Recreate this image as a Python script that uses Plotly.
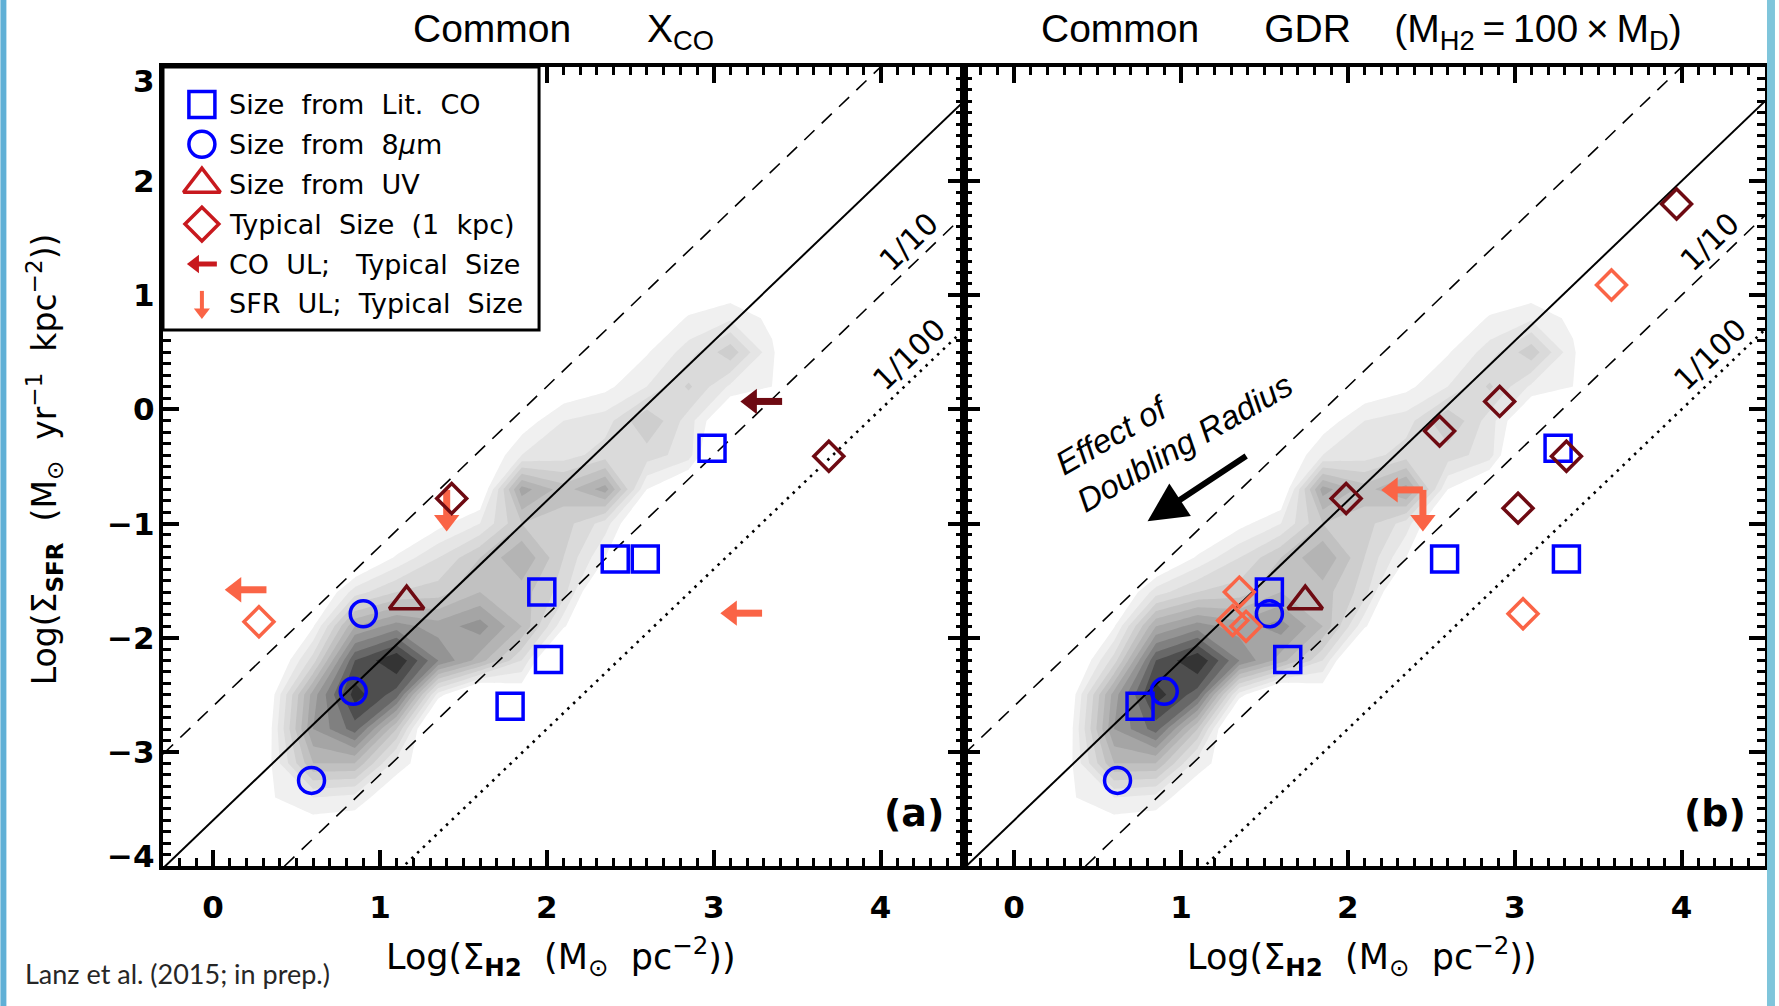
import plotly.graph_objects as go

# ---------------- canvas / axes geometry ----------------
W, H = 1779, 1006
M_L, M_R, M_T, M_B = 163, 10, 67, 140
PLOT_W = W - M_L - M_R
PLOT_H = H - M_T - M_B
X_RANGE = [-0.3, 4.5]
Y_RANGE = [-4.0, 3.0]
PX_PER_X = (PLOT_W / 2) / (X_RANGE[1] - X_RANGE[0])
PX_PER_Y = PLOT_H / (Y_RANGE[1] - Y_RANGE[0])


def px_x(p):
    return (p - M_L) / PLOT_W


def px_y(p):
    return (H - M_B - p) / PLOT_H


# ---------------- Kennicutt-Schmidt relation ----------------
KS_SLOPE = 1.4
KS_ZERO = -3.6
ks_offsets = [1.0, 0.0, -1.0, -2.0]
ks_dash = ["14px,10px", "solid", "14px,10px", "2.5px,5.5px"]
ks_width = [1.6, 2.0, 1.6, 2.6]

# ---------------- comparison-sample density (grey contours) ----------------
grid_x = [0.10, 0.35, 0.60, 0.85, 1.10, 1.35, 1.60, 1.85, 2.10, 2.35, 2.60, 2.85, 3.10, 3.35, 3.60]
grid_y = [-3.7, -3.4, -3.1, -2.8, -2.5, -2.2, -1.9, -1.6, -1.3, -1.0, -0.7, -0.4, -0.1, 0.2, 0.5, 0.8, 1.1]
density = [
    [0, 0,    0,   0,    0,    0,   0,    0,   0,   0,   0,    0,   0,   0,   0],
    [0, 0.9,  2.0, 1.6,  0,    0,   0,    0,   0,   0,   0,    0,   0,   0,   0],
    [0, 1.0,  6.0, 6.0,  1.5,  0,   0,    0,   0,   0,   0,    0,   0,   0,   0],
    [0, 0.95, 8.0, 10.5, 5.0, -3,   0,    0,   0,   0,   0,    0,   0,   0,   0],
    [0, 0.5,  7.5, 12.5, 10.5, 1.5, -2,   0,   0,   0,   0,    0,   0,   0,   0],
    [0, -1,   3.5, 11,   13,   9,   6.5,  3,  -3,   0,   0,    0,   0,   0,   0],
    [0, 0,    0.9, 7,    8.5,  7.5, 8.5,  6,   1.2, -2,  0,    0,   0,   0,   0],
    [0, 0,   -1,   2.5,  4,    4.5, 6,    5.5, 3.5, -2,  0,    0,   0,   0,   0],
    [0, 0,    0,  -1,    1.2,  3,   5,    7,   4,   1.0, -2,   0,   0,   0,   0],
    [0, 0,    0,   0,   -1,    0.6, 2,    5,   4.5, 2.5, -1.5, 0,   0,   0,   0],
    [0, 0,    0,   0,    0,   -1,  -0.5,  7.5, 5.5, 7.5, 1.0, -1,   0,   0,   0],
    [0, 0,    0,   0,    0,    0,  -0.5,  2,   2.5, 3.5, 3.5,  2.5, -3,  0,   0],
    [0, 0,    0,   0,    0,    0,   0,    0.3, 2,   2.5, 5,    2.5, -1, -1,   0],
    [0, 0,    0,   0,    0,    0,   0,    0,   0,   0.7, 2,    4.2, 1.8, 1.0, 0],
    [0, 0,    0,   0,    0,    0,   0,    0,   0,   0,   0.9,  2.5, 4.7, 1.2, -2],
    [0, 0,    0,   0,    0,    0,   0,    0,   0,   0,   0,    1.1, 1.8, 0.7, 0],
    [0, 0,    0,   0,    0,    0,   0,    0,   0,   0,   0,    0,   0,   0,   0],
]
grey_levels = [255, 240, 229, 218, 206, 193, 180, 165, 148, 128, 104, 78, 52]

# ---------------- panel (a): common X_CO ----------------
a_litco_x = [2.99, 2.41, 2.59, 1.97, 2.01, 1.78]
a_litco_y = [-0.34, -1.31, -1.31, -1.60, -2.19, -2.60]
a_8um_x = [0.90, 0.84, 0.59]
a_8um_y = [-1.79, -2.47, -3.25]
a_uv_x = [1.16]
a_uv_y = [-1.68]
a_typ_dark_x = [1.43, 3.69]
a_typ_dark_y = [-0.78, -0.41]
a_typ_light_x = [0.275]
a_typ_light_y = [-1.86]
a_coul_light_x = [0.32, 3.29]
a_coul_light_y = [-1.58, -1.785]
a_coul_dark_x = [3.41]
a_coul_dark_y = [0.07]
a_sfrul_x = [1.40]
a_sfrul_y = [-0.705]

# ---------------- panel (b): common gas-to-dust ratio ----------------
b_litco_x = [3.26, 2.58, 3.31, 1.53, 1.64, 0.755]
b_litco_y = [-0.34, -1.31, -1.31, -1.60, -2.19, -2.60]
b_8um_x = [1.53, 0.90, 0.62]
b_8um_y = [-1.79, -2.47, -3.25]
b_uv_x = [1.745]
b_uv_y = [-1.68]
b_typ_dark_x = [3.97, 2.91, 2.55, 1.99, 3.02, 3.31]
b_typ_dark_y = [1.80, 0.07, -0.19, -0.78, -0.865, -0.41]
b_typ_light_x = [3.58, 1.35, 1.31, 1.39, 3.05]
b_typ_light_y = [1.09, -1.60, -1.85, -1.90, -1.79]
b_coul_light_x = [2.45]
b_coul_light_y = [-0.705]
b_coul_dark_x = []
b_coul_dark_y = []
b_sfrul_x = [2.45]
b_sfrul_y = [-0.705]

# ---------------- tick labels ----------------
x_ticks = [0, 1, 2, 3, 4]
y_ticks = [3, 2, 1, 0, -1, -2, -3, -4]
y_tick_text = ["3", "2", "1", "0", "\u22121", "\u22122", "\u22123", "\u22124"]
y_tick_shift = [-14, 0, 0, 0, 0, 0, 0, 10]   # end labels tucked inside the frame

# legend rows
NB = "\u00a0"
TH = "\u2009"
legend_labels = [
    f"Size{NB} from{NB} Lit.{NB} CO",
    f"Size{NB} from{NB} 8<i>\u03bc</i>m",
    f"Size{NB} from{NB} UV",
    f"Typical{NB} Size{NB} (1{NB} kpc)",
    f"CO{NB} UL;{NB}{NB} Typical{NB} Size",
    f"SFR{NB} UL;{NB} Typical{NB} Size",
]

# ---------------- styles ----------------
BLUE = "#0000FF"
DARK = "#6E0A12"
CORAL = "#FA6446"
LEG_RED = "#C8191E"
ARROW_DX = 0.25      # length of a CO upper-limit arrow (x units)
ARROW_DY = 0.365     # length of an SFR upper-limit arrow (y units)
HEAD_SIZE = 22
SHAFT_W = 7

fig = go.Figure()
cscale = [[k / (len(grey_levels) - 1), f"rgb({g},{g},{g})"] for k, g in enumerate(grey_levels)]


def add_arrows(xs, ys, direction, color, xa, ya, dx, dy, head, shaft, ppx, ppy):
    sx, sy, hx, hy = [], [], [], []
    r = head / 2.0
    for x, y in zip(xs, ys):
        if direction == "left":
            tip = x - dx
            anchor = tip + r / ppx
            sx += [x, anchor, None]
            sy += [y, y, None]
            hx.append(anchor)
            hy.append(y)
        else:
            tip = y - dy
            anchor = tip + r / ppy
            sx += [x, x, None]
            sy += [y, anchor, None]
            hx.append(x)
            hy.append(anchor)
    sym = "triangle-left" if direction == "left" else "triangle-down"
    fig.add_trace(go.Scatter(x=sx, y=sy, mode="lines", line=dict(color=color, width=shaft),
                             xaxis=xa, yaxis=ya, hoverinfo="skip"))
    fig.add_trace(go.Scatter(x=hx, y=hy, mode="markers",
                             marker=dict(symbol=sym, size=head, color=color, line=dict(width=0)),
                             xaxis=xa, yaxis=ya, hoverinfo="skip"))


def add_points(xs, ys, symbol, color, size, xa, ya, lw=3.5):
    fig.add_trace(go.Scatter(x=xs, y=ys, mode="markers",
                             marker=dict(symbol=symbol, size=size, color=color, line=dict(width=lw, color=color)),
                             xaxis=xa, yaxis=ya, hoverinfo="skip"))


panels = [
    dict(xa="x", ya="y", litco=(a_litco_x, a_litco_y), um8=(a_8um_x, a_8um_y), uv=(a_uv_x, a_uv_y),
         dark=(a_typ_dark_x, a_typ_dark_y), light=(a_typ_light_x, a_typ_light_y),
         coul_light=(a_coul_light_x, a_coul_light_y), coul_dark=(a_coul_dark_x, a_coul_dark_y),
         sfrul=(a_sfrul_x, a_sfrul_y)),
    dict(xa="x2", ya="y2", litco=(b_litco_x, b_litco_y), um8=(b_8um_x, b_8um_y), uv=(b_uv_x, b_uv_y),
         dark=(b_typ_dark_x, b_typ_dark_y), light=(b_typ_light_x, b_typ_light_y),
         coul_light=(b_coul_light_x, b_coul_light_y), coul_dark=(b_coul_dark_x, b_coul_dark_y),
         sfrul=(b_sfrul_x, b_sfrul_y)),
]

for p in panels:
    xa, ya = p["xa"], p["ya"]
    fig.add_trace(go.Contour(x=grid_x, y=grid_y, z=density, colorscale=cscale, showscale=False,
                             autocontour=False,
                             contours=dict(start=1, end=12, size=1, coloring="fill", showlines=False),
                             line=dict(width=0, smoothing=0), hoverinfo="skip", xaxis=xa, yaxis=ya))
    for off, dash, lw in zip(ks_offsets, ks_dash, ks_width):
        lx = list(X_RANGE)
        ly = [KS_SLOPE * v + KS_ZERO + off for v in lx]
        fig.add_trace(go.Scatter(x=lx, y=ly, mode="lines", line=dict(color="black", width=lw, dash=dash),
                                 xaxis=xa, yaxis=ya, hoverinfo="skip"))
    add_arrows(*p["sfrul"], "down", CORAL, xa, ya, ARROW_DX, ARROW_DY, HEAD_SIZE, SHAFT_W, PX_PER_X, PX_PER_Y)
    add_arrows(*p["coul_light"], "left", CORAL, xa, ya, ARROW_DX, ARROW_DY, HEAD_SIZE, SHAFT_W, PX_PER_X, PX_PER_Y)
    if p["coul_dark"][0]:
        add_arrows(*p["coul_dark"], "left", DARK, xa, ya, ARROW_DX, ARROW_DY, HEAD_SIZE, SHAFT_W, PX_PER_X, PX_PER_Y)
    add_points(*p["litco"], "square-open", BLUE, 26, xa, ya)
    add_points(*p["um8"], "circle-open", BLUE, 26, xa, ya)
    add_points(*p["uv"], "triangle-up-open", DARK, 30, xa, ya)
    add_points(*p["light"], "diamond-open", CORAL, 23, xa, ya)
    add_points(*p["dark"], "diamond-open", DARK, 23, xa, ya)

# ---------------- legend (drawn on its own pixel-scaled axes; row k sits at y = -k) ----------------
LEG_X0, LEG_X1, LEG_Y0, LEG_Y1 = 163, 540, 67, 330
ROW_PX = 39.9
ROW0_PX = 104.4
leg_rows = [-k for k in range(len(legend_labels))]
leg_sym_x = 39
leg_text_x = 64
leg_symbols = ["square-open", "circle-open", "triangle-up-open", "diamond-open"]
leg_colors = [BLUE, BLUE, LEG_RED, LEG_RED]
leg_sizes = [26, 26, 32, 26]
for row, sym, col, sz in zip(leg_rows[:4], leg_symbols, leg_colors, leg_sizes):
    add_points([leg_sym_x], [row], sym, col, sz, "x3", "y3")
add_arrows([leg_sym_x + 15], [leg_rows[4]], "left", LEG_RED, "x3", "y3", 30, 0, 16, 5, 1.0, ROW_PX)
add_arrows([leg_sym_x], [leg_rows[5] + 13 / ROW_PX], "down", CORAL, "x3", "y3", 0, 28 / ROW_PX, 14, 4, 1.0, ROW_PX)

axis_common = dict(
    showline=True, linewidth=4, linecolor="black", mirror="allticks",
    ticks="inside", ticklen=16, tickwidth=3.5, tickcolor="black",
    minor=dict(ticks="inside", ticklen=8, tickwidth=3, tickcolor="black", dtick=0.1),
    showgrid=False, zeroline=False,
    tickfont=dict(family="DejaVu Sans", size=31, color="black", weight="bold"),
)

split = 0.5
fig.update_layout(
    width=W, height=H,
    margin=dict(l=M_L, r=M_R, t=M_T, b=M_B, pad=0),
    paper_bgcolor="white", plot_bgcolor="white",
    showlegend=False,
    xaxis=dict(domain=[0, split], range=X_RANGE, tickvals=x_ticks, anchor="y",
               ticklabelstandoff=11, **axis_common),
    yaxis=dict(domain=[0, 1], range=Y_RANGE, tickvals=y_ticks, anchor="x",
               showticklabels=False, **axis_common),
    xaxis2=dict(domain=[split, 1], range=X_RANGE, tickvals=x_ticks, anchor="y2",
                ticklabelstandoff=11, **axis_common),
    yaxis2=dict(domain=[0, 1], range=Y_RANGE, tickvals=y_ticks, anchor="x2",
                showticklabels=False, **axis_common),
    xaxis3=dict(domain=[max(0.0, px_x(LEG_X0)), min(1.0, px_x(LEG_X1))], range=[0, LEG_X1 - LEG_X0],
                visible=False, anchor="y3", fixedrange=True),
    yaxis3=dict(domain=[max(0.0, px_y(LEG_Y1)), min(1.0, px_y(LEG_Y0))],
                range=[-(LEG_Y1 - ROW0_PX) / ROW_PX, -(LEG_Y0 - ROW0_PX) / ROW_PX],
                visible=False, anchor="x3", fixedrange=True),
)

shapes = [
    dict(type="rect", xref="paper", yref="paper", x0=px_x(LEG_X0), x1=px_x(LEG_X1),
         y0=px_y(LEG_Y1), y1=px_y(LEG_Y0), line=dict(color="black", width=3), layer="above"),
    dict(type="rect", xref="paper", yref="paper", x0=px_x(0), x1=px_x(6), y0=px_y(H), y1=px_y(0),
         line=dict(width=0), fillcolor="#60B0D6", layer="above"),
    dict(type="rect", xref="paper", yref="paper", x0=px_x(1771), x1=px_x(W), y0=px_y(H), y1=px_y(0),
         line=dict(width=0), fillcolor="#7FC5DB", layer="above"),
]

TXT = "DejaVu Sans"
annotations = []
for row, label in zip(leg_rows, legend_labels):
    annotations.append(dict(x=leg_text_x, y=row, xref="x3", yref="y3", text=label, showarrow=False,
                            xanchor="left", yanchor="middle", font=dict(family=TXT, size=27, color="black")))

# y tick labels of the left panel
for val, txt, shift in zip(y_ticks, y_tick_text, y_tick_shift):
    annotations.append(dict(x=px_x(157), y=val, xref="paper", yref="y", text=txt, showarrow=False,
                            xanchor="right", yanchor="middle", yshift=shift,
                            font=dict(family="DejaVu Sans", size=31, color="black", weight="bold")))


def paper_text(px, py, text, font, **kw):
    d = dict(x=px_x(px), y=px_y(py), xref="paper", yref="paper", text=text, showarrow=False,
             xanchor="center", yanchor="middle", font=font)
    d.update(kw)
    return d


title_font = dict(family="Liberation Sans", size=39, color="black")
annotations += [
    paper_text(565, 31, "Common" + NB * 7 + "X<sub>CO</sub>", title_font),
    paper_text(1364, 31, "Common" + NB * 6 + "GDR" + NB * 4 +
               f"(M<sub>H2</sub>{TH}={TH}100{TH}\u00d7{TH}M<sub>D</sub>)", title_font),
]
xtitle = f"Log(\u03a3<sub><b>H2</b></sub>{NB} (M<sub>\u2299</sub>{NB} pc<sup>\u22122</sup>))"
ytitle = (f"Log(\u03a3<sub><b>SFR</b></sub>{NB} (M<sub>\u2299</sub>{NB} yr<sup>\u22121</sup>"
          f"{NB} kpc<sup>\u22122</sup>))")
axis_title_font = dict(family=TXT, size=35, color="black")
annotations += [
    paper_text(562, 956, xtitle, axis_title_font),
    paper_text(1365, 956, xtitle, axis_title_font),
    paper_text(44, 459, ytitle, dict(family=TXT, size=33, color="black"), textangle=-90),
    paper_text(23, 973, "Lanz et al. (2015; in prep.)", dict(family="Lato", size=27, color="#262626"),
               xanchor="left"),
]

# efficiency labels and panel tags
for xa, ya, tag in [("x", "y", "(a)"), ("x2", "y2", "(b)")]:
    annotations += [
        dict(x=4.17, y=1.47, xref=xa, yref=ya, text="1/10", showarrow=False, textangle=-44,
             font=dict(family=TXT, size=30, color="black")),
        dict(x=4.17, y=0.48, xref=xa, yref=ya, text="1/100", showarrow=False, textangle=-44,
             font=dict(family=TXT, size=30, color="black")),
        dict(x=4.20, y=-3.535, xref=xa, yref=ya, text=tag, showarrow=False,
             font=dict(family=TXT, size=38, color="black", weight="bold")),
    ]

annotations += [
    dict(x=0.96, y=-0.13, xref="x2", yref="y2", text="Effect of<br>Doubling Radius", showarrow=False,
         textangle=-30, align="left",
         font=dict(family="Liberation Sans", size=33, color="black", style="italic")),
    dict(x=0.80, y=-0.98, xref="x2", yref="y2", ax=1.40, ay=-0.40, axref="x2", ayref="y2",
         text="", showarrow=True, arrowhead=2, arrowsize=1.3, arrowwidth=6, arrowcolor="black"),
]

fig.update_layout(shapes=shapes, annotations=annotations)
fig.write_html("out.html")
